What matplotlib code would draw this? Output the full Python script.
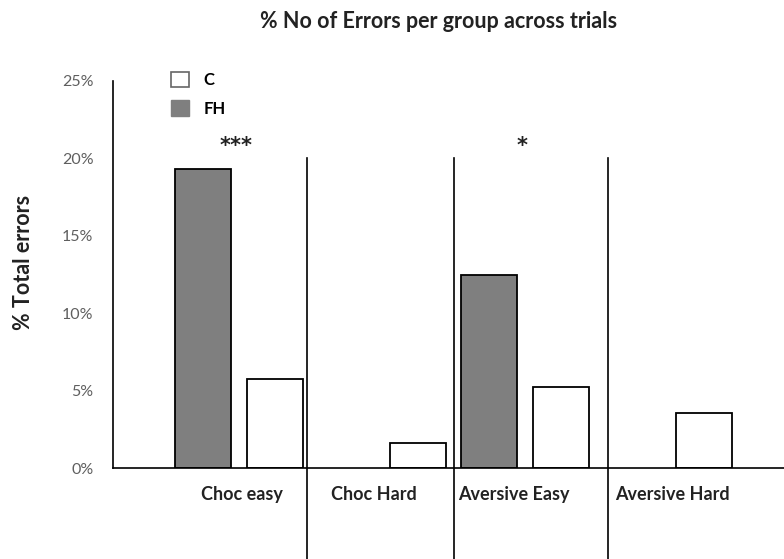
import matplotlib
matplotlib.use("Agg")
import matplotlib.pyplot as plt
from matplotlib.patches import Patch
import numpy as np

plt.rcParams['font.family'] = ['Lato', 'DejaVu Sans']

categories = ["Choc easy", "Choc Hard", "Aversive Easy", "Aversive Hard"]
fh_values = [19.3, 0.0, 12.5, 0.0]
c_values = [5.75, 1.6, 5.23, 3.57]
significance = ["***", "", "*", ""]
ytick_values = [0, 5, 10, 15, 20, 25]
ytick_labels = ["0%", "5%", "10%", "15%", "20%", "25%"]

W, H = 784, 559
fig = plt.figure(figsize=(W / 100, H / 100), dpi=100)
ax = fig.add_axes([113 / W, 1 - 468 / H, (W - 113) / W, (468 - 81) / H])

x = np.arange(len(categories))
offset = 0.252
width = 0.39
ax.bar(x - offset, fh_values, width, color="#7f7f7f", edgecolor="black",
       linewidth=[1.3 if v > 0 else 0 for v in fh_values])
ax.bar(x + offset, c_values, width, color="white", edgecolor="black",
       linewidth=[1.3 if v > 0 else 0 for v in c_values])

ax.set_xlim(-0.879, 3.813)
ax.set_ylim(0, 25)

ax.set_yticks(ytick_values)
ax.set_yticklabels(ytick_labels, color="#5f5f5f", fontsize=11.5)
ax.tick_params(axis="y", length=0, pad=14)
ax.set_xticks([])

for s in ["top", "right"]:
    ax.spines[s].set_visible(False)
ax.spines["left"].set_linewidth(1.2)
ax.spines["bottom"].set_linewidth(1.2)

# group separators
sep_positions = [0.476, 1.503, 2.581]
for sx in sep_positions:
    ax.plot([sx, sx], [20, -6.0], color="black", linewidth=1.2, clip_on=False)

# category labels
label_shift = [0.02, -0.057, -0.075, 0.03]
for i, cat in enumerate(categories):
    ax.text(i + label_shift[i], -1.7, cat, ha="center", va="center",
            fontsize=13, fontweight="bold", color="#222222")

# significance stars
for i, s in enumerate(significance):
    if s:
        ax.text(i - 0.02, 20.8, s, ha="center", va="center", fontsize=15,
                fontweight="bold", color="#222222", family=["DejaVu Sans"])

fig.text(24 / W, 1 - 262 / H, "% Total errors", rotation=90, ha="center", va="center",
         fontsize=15.5, fontweight="bold", color="#222222")

handles = [Patch(facecolor="white", edgecolor="#666666", linewidth=1.2, label="C"),
           Patch(facecolor="#7f7f7f", edgecolor="#7f7f7f", label="FH")]
ax.legend(handles=handles, loc="upper left", bbox_to_anchor=(171 / W, 1 - 72 / H),
          bbox_transform=fig.transFigure, frameon=False,
          handlelength=1.05, handleheight=1.05, handletextpad=0.9, labelspacing=0.7,
          borderpad=0, borderaxespad=0, prop={"weight": "bold", "size": 12})

fig.text(439 / W, 1 - 22 / H, "% No of Errors per group across trials", ha="center",
         va="center", fontsize=15.5, fontweight="bold", color="#222222")

fig.savefig("out.png", dpi=100)
